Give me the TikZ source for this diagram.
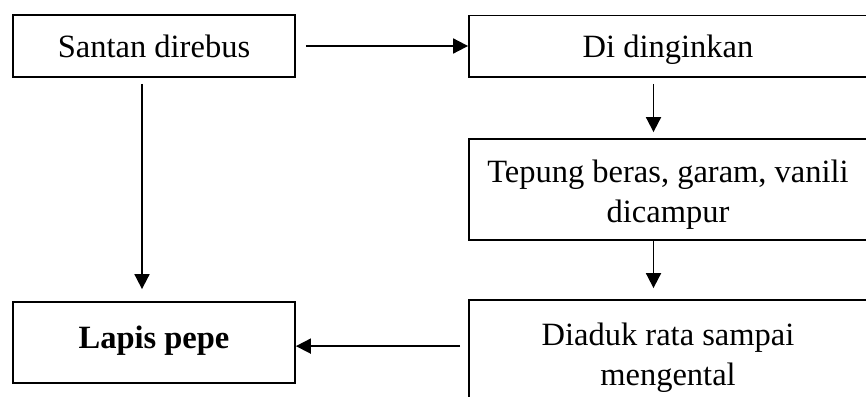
\documentclass[tikz,border=0pt]{standalone}
\usepackage{fontspec}
\setmainfont{Liberation Serif}
\usetikzlibrary{arrows.meta,calc}
\begin{document}
\begin{tikzpicture}[x=1pt,y=-1pt,
  box/.style={draw,line width=1.8pt,rectangle,inner sep=0pt},
  arr/.style={line width=1.8pt,-{Triangle[length=15pt,width=15pt]}},
  txt/.style={font=\fontsize{32.5}{40}\selectfont,align=center,inner sep=0pt}]
\useasboundingbox (0,0) rectangle (866,396);
\clip (0,0) rectangle (866,396);
% process boxes
\node[box,minimum width=282pt,minimum height=62pt] (a) at (154,46) {};
\node[box,minimum width=399pt,minimum height=61.5pt] (b) at (668.5,46.25) {};
\node[box,minimum width=399pt,minimum height=101pt] (c) at (668.5,189.5) {};
\node[box,minimum width=399pt,minimum height=130pt] (d) at (668.5,365) {};
\node[box,minimum width=282pt,minimum height=81pt] (e) at (154,342.5) {};
% box texts
\node[txt] (ta) at (154,46) {Santan direbus};
\node[txt] (tb) at (668,49.5) {Di dinginkan};
\node[txt] (tc) at (668,194.5) {Tepung beras, garam, vanili\\dicampur};
\node[txt] (td) at (668,357.5) {Diaduk rata sampai\\mengental};
\node[txt,font=\fontsize{32.5}{40}\selectfont\bfseries] (te) at (154,340.5) {Lapis pepe};
% connectors
\draw[arr] ($(a.east)+(10,0)$) -- (b.west |- a.east);
\draw[arr] ($(b.south)+(-15,6)$) -- ($(c.north)+(-15,-6)$);
\draw[arr] ($(c.south)+(-15,0)$) -- ($(d.north)+(-15,-11)$);
\draw[arr] ($(a.south)+(-12,6)$) -- ($(e.north)+(-12,-12)$);
\coordinate (dl) at ($(d.north west)+(-8,47)$);
\draw[arr] (dl) -- (e.east |- dl);
\end{tikzpicture}
\end{document}
